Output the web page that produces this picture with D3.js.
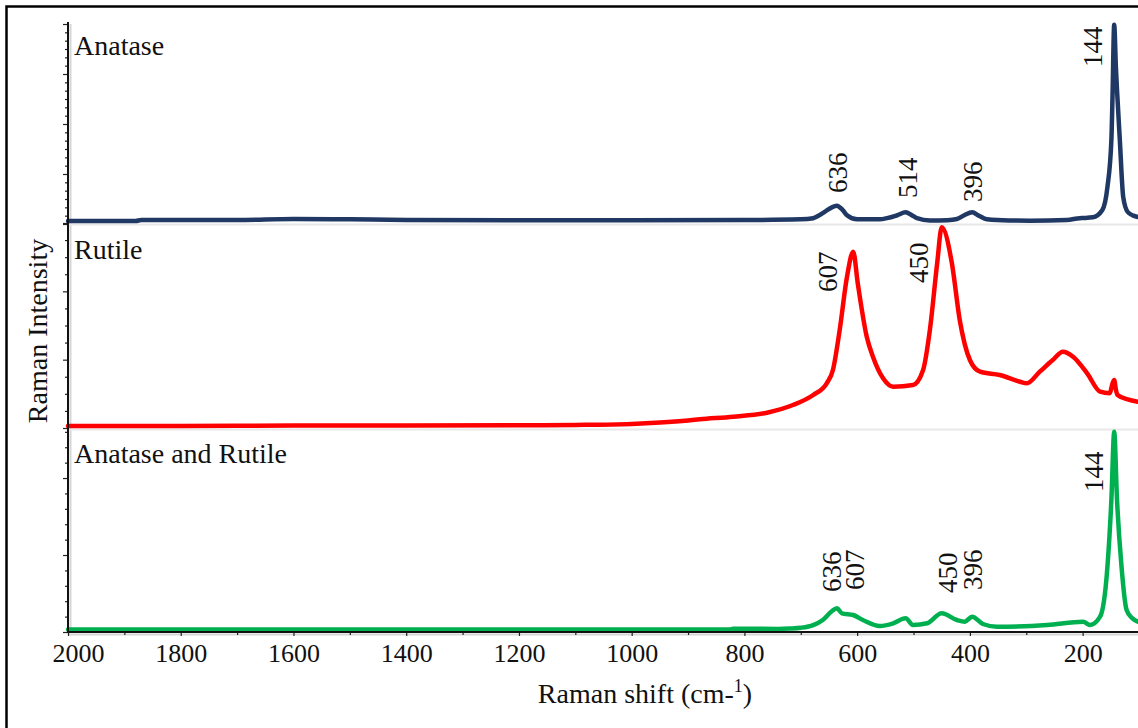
<!DOCTYPE html>
<html>
<head>
<meta charset="utf-8">
<script src="https://cdn.jsdelivr.net/npm/d3@7"></script>
<style>
  html, body { margin: 0; padding: 0; background: #fff; }
  svg { display: block; }
  svg text { font-family: "Liberation Serif", "Times New Roman", serif !important; fill: #111; }
</style>
</head>
<body>
<svg id="chart" width="1138" height="728" font-family="Liberation Serif, serif"></svg>
<script>
// Raman spectra of TiO2 phases (shift in cm-1, intensity in counts)
const shiftTicks = [2000, 1800, 1600, 1400, 1200, 1000, 800, 600, 400, 200];

const anataseShift = [2000, 1880, 1870, 1700, 1600, 1500, 1400, 1200, 1000, 800,
  700, 678, 661, 650, 636, 626, 618, 600, 560, 547,
  529, 514, 503, 494, 471, 440, 423, 410, 396, 384,
  370, 330, 293, 228, 205, 199, 182, 165, 156, 149,
  147, 144, 141, 139, 134, 128, 120, 110, 102];
const anataseIntensity = [360, 360, 480, 480, 600, 560, 480, 460, 460, 480,
  560, 700, 1300, 1800, 2200, 1700, 1050, 560, 560, 700,
  1050, 1400, 1050, 700, 420, 460, 600, 1050, 1400, 1000,
  560, 420, 400, 480, 700, 720, 800, 1680, 4440, 10080,
  15240, 23900, 18840, 16080, 10080, 3240, 1440, 1000, 840];

const rutileShift = [2000, 1800, 1600, 1400, 1200, 1100, 1000, 950, 900, 879,
  820, 760, 714, 678, 654, 643, 631, 618, 607, 599,
  583, 572, 554, 536, 501, 483, 471, 458, 450, 432,
  418, 400, 382, 347, 311, 299, 276, 253, 235, 217,
  192, 169, 152, 147, 144, 141, 138, 120, 102];
const rutileIntensity = [30, 30, 35, 35, 40, 45, 60, 80, 110, 127,
  165, 224, 336, 483, 654, 849, 1434, 2214, 2580, 2121,
  1336, 1043, 727, 604, 629, 849, 1434, 2414, 2936, 2414,
  1580, 995, 824, 775, 677, 654, 824, 995, 1116, 1043,
  800, 531, 508, 650, 702, 560, 483, 420, 385];

const mixedShift = [2000, 1600, 1200, 900, 826, 820, 740, 719, 700, 678,
  661, 645, 636, 627, 607, 590, 560, 536, 514, 501,
  476, 450, 423, 409, 396, 377, 352, 263, 199, 187,
  169, 156, 149, 144, 139, 131, 122, 112, 102];
const mixedIntensity = [320, 320, 330, 330, 340, 420, 400, 450, 550, 900,
  1560, 2700, 3080, 2430, 2210, 1560, 780, 1130, 1780, 910,
  1130, 2430, 1560, 1340, 1990, 1040, 690, 910, 1340, 910,
  1990, 8480, 17150, 26000, 17150, 8480, 2860, 1800, 1340];

const anataseLabels = ["636", "514", "396", "144"];
const rutileLabels = ["607", "450"];
const mixedLabels = ["636", "607", "450", "396", "144"];

const panelNames = ["Anatase", "Rutile", "Anatase and Rutile"];

// ---- layout ----
const SERIF = "Liberation Serif, Times New Roman, serif";
const svg = d3.select("#chart");
const left = 68, right = 1139, axisY = 632, plotTop = 24;

const x = d3.scaleLinear().domain([2000, 100]).range([left, right]);

// outer frame
svg.append("rect")
  .attr("x", 6.5).attr("y", 6.5).attr("width", 1140).attr("height", 730)
  .attr("fill", "none").attr("stroke", "#000").attr("stroke-width", 2.5);

const panels = [
  { name: panelNames[0], shift: anataseShift, val: anataseIntensity, labels: anataseLabels,
    color: "#1f3864", y0: 224, y1: 24, max: 24000, major: 6000, minor: 1000,
    nameY: 55, sep: 223,
    place: [[10, 193], [11, 198], [10, 202], [-12, 67]] },
  { name: panelNames[1], shift: rutileShift, val: rutileIntensity, labels: rutileLabels,
    color: "#ff0000", y0: 428, y1: 223, max: 3000, major: 1000, minor: 250,
    nameY: 259, sep: 428,
    place: [[-16, 292], [-14, 283]] },
  { name: panelNames[2], shift: mixedShift, val: mixedIntensity, labels: mixedLabels,
    color: "#00b050", y0: 632, y1: 428, max: 26500, major: 10000, minor: 2000,
    nameY: 463, sep: null,
    place: [[4, 592], [11, 590], [15, 593], [10, 590], [-11, 492]] }
];

// light guide lines along the axes and between panels
svg.append("line").attr("x1", left + 2.5).attr("x2", left + 2.5)
  .attr("y1", plotTop).attr("y2", axisY).attr("stroke", "#d6d6d6").attr("stroke-width", 2);
svg.append("line").attr("x1", left).attr("x2", right)
  .attr("y1", axisY + 2.5).attr("y2", axisY + 2.5).attr("stroke", "#d6d6d6").attr("stroke-width", 2);

panels.forEach(p => {
  if (p.sep !== null) {
    svg.append("line").attr("x1", left + 2).attr("x2", right)
      .attr("y1", p.sep + 1.5).attr("y2", p.sep + 1.5)
      .attr("stroke", "#e8e8e8").attr("stroke-width", 2);
  }
});

panels.forEach(p => {
  const y = d3.scaleLinear().domain([0, p.max]).range([p.y0, p.y1]);

  // y ticks (no labels)
  const minorVals = d3.range(0, p.max + 1, p.minor).filter(v => v % p.major !== 0);
  const majorVals = d3.range(0, p.max + 1, p.major);
  const gMinor = svg.append("g").attr("transform", `translate(${left},0)`)
    .call(d3.axisLeft(y).tickValues(minorVals).tickSize(3).tickFormat(""));
  gMinor.select(".domain").remove();
  const gMajor = svg.append("g").attr("transform", `translate(${left},0)`)
    .call(d3.axisLeft(y).tickValues(majorVals).tickSize(5).tickFormat(""));
  gMajor.select(".domain").remove();
  svg.selectAll(".tick line").attr("stroke", "#222").attr("stroke-width", 1.2);

  // spectrum
  const pts = p.shift.map((s, i) => [s, p.val[i]]);
  const line = d3.line()
    .x(d => x(d[0]))
    .y(d => y(d[1]))
    .curve(d3.curveMonotoneX);
  svg.append("path")
    .datum(pts)
    .attr("d", line)
    .attr("fill", "none")
    .attr("stroke", p.color)
    .attr("stroke-width", 4.5)
    .attr("stroke-linejoin", "round")
    .attr("stroke-linecap", "round");

  // panel name
  svg.append("text")
    .attr("x", 74).attr("y", p.nameY)
    .attr("font-family", SERIF)
    .attr("font-size", 28)
    .text(p.name);

  // peak labels, rotated
  p.labels.forEach((lab, i) => {
    const px = x(+lab) + p.place[i][0];
    const py = p.place[i][1];
    svg.append("text")
      .attr("transform", `translate(${px},${py}) rotate(-90)`)
      .attr("font-family", SERIF)
      .attr("font-size", 27)
      .attr("text-anchor", "start")
      .text(lab);
  });
});

// x axis
const minorX = d3.range(2000, 99, -100).filter(v => !shiftTicks.includes(v));
const gxMinor = svg.append("g").attr("transform", `translate(0,${axisY})`)
  .call(d3.axisBottom(x).tickValues(minorX).tickSize(3).tickFormat(""));
gxMinor.select(".domain").remove();
const gx = svg.append("g").attr("transform", `translate(0,${axisY})`)
  .call(d3.axisBottom(x).tickValues(shiftTicks).tickSize(4).tickPadding(8).tickFormat(d3.format("d")));
gx.attr("font-family", SERIF);
gx.select(".domain").remove();
gx.selectAll("text").attr("font-size", 26).attr("font-family", SERIF).attr("fill", "#111");
gx.selectAll(".tick").filter(d => d === 2000).select("text").attr("dx", 10);
svg.selectAll(".tick line").attr("stroke", "#222").attr("stroke-width", 1.2);

// axis lines
svg.append("line").attr("x1", left).attr("x2", left)
  .attr("y1", plotTop - 2).attr("y2", axisY + 1).attr("stroke", "#111").attr("stroke-width", 2);
svg.append("line").attr("x1", left - 1).attr("x2", right)
  .attr("y1", axisY).attr("y2", axisY).attr("stroke", "#111").attr("stroke-width", 2);

// axis titles
const xt = svg.append("text")
  .attr("x", 645).attr("y", 703)
  .attr("text-anchor", "middle")
  .attr("font-family", SERIF)
  .attr("font-size", 28);
xt.append("tspan").text("Raman shift (cm-");
xt.append("tspan").attr("font-size", 18).attr("dy", -11).text("1");
xt.append("tspan").attr("dy", 11).text(")");

svg.append("text")
  .attr("transform", "translate(47,331) rotate(-90)")
  .attr("text-anchor", "middle")
  .attr("font-family", SERIF)
  .attr("font-size", 28)
  .text("Raman Intensity");
</script>
</body>
</html>
